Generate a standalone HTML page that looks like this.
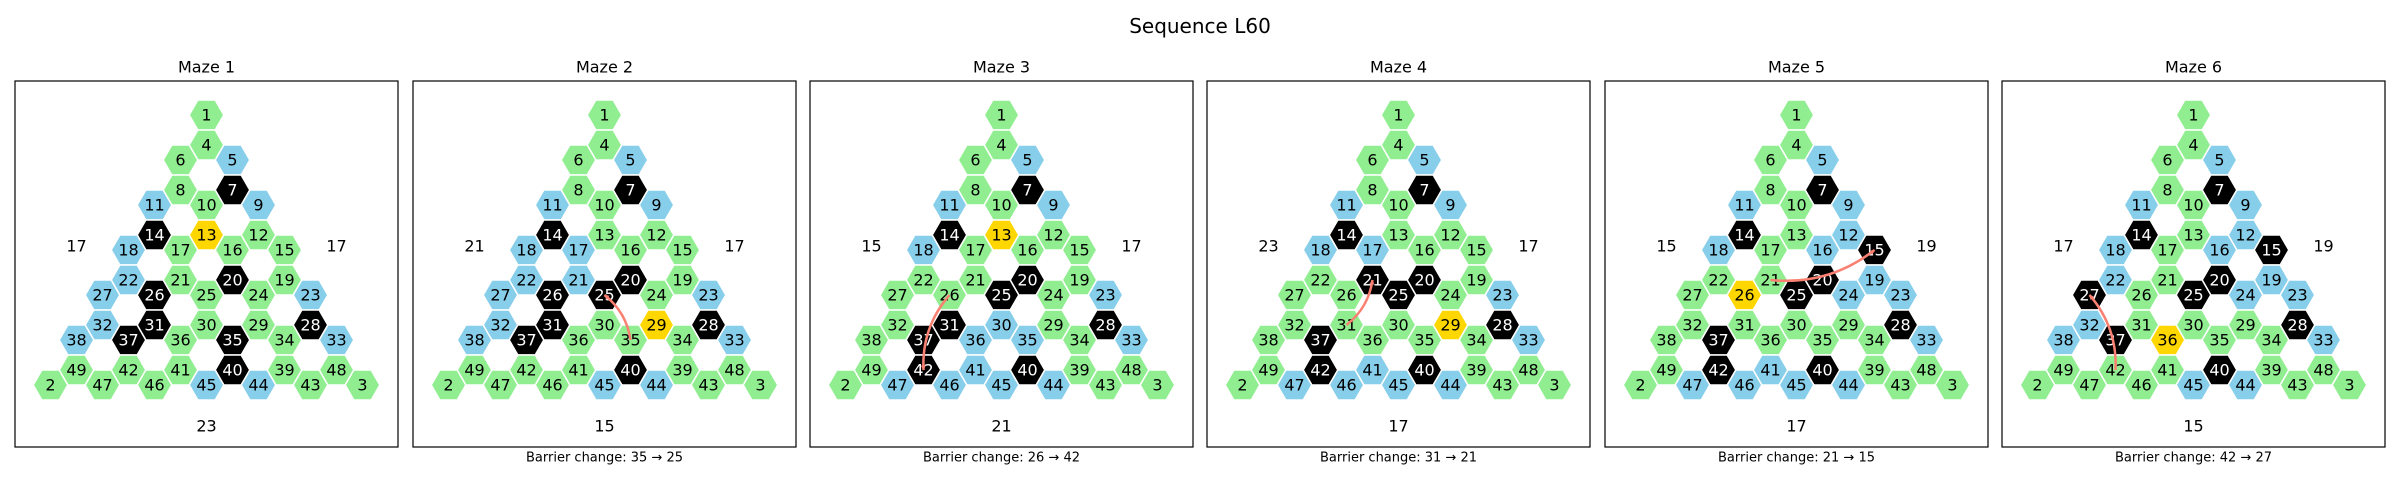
<!DOCTYPE html>
<html><head><meta charset="utf-8"><style>
body{margin:0;background:#fff;}
svg{display:block;font-family:"DejaVu Sans","Liberation Sans",sans-serif;}
</style></head><body>
<svg id="fig" width="2400" height="480" viewBox="0 0 2400 480" xmlns="http://www.w3.org/2000/svg">
<text x="1200" y="26" text-anchor="middle" dominant-baseline="central" font-size="20">Sequence L60</text>
</svg>
<script>
// node layout: id, column (-6..6), half-row index
const nodeIds  = [1,4,6,5,8,7,11,10,9,14,13,12,18,17,16,15,22,21,20,19,27,26,25,24,23,32,31,30,29,28,38,37,36,35,34,33,49,42,41,40,39,48,2,47,46,45,44,43,3];
const nodeCols = [0,0,-1,1,-1,1,-2,0,2,-2,0,2,-3,-1,1,3,-3,-1,1,3,-4,-2,0,2,4,-4,-2,0,2,4,-5,-3,-1,1,3,5,-5,-3,-1,1,3,5,-6,-4,-2,0,2,4,6];
const nodeRows = [0,2,3,3,5,5,6,6,6,8,8,8,9,9,9,9,11,11,11,11,12,12,12,12,12,14,14,14,14,14,15,15,15,15,15,15,17,17,17,17,17,17,18,18,18,18,18,18,18];
// per-maze state
const mazeTitles = ["Maze 1","Maze 2","Maze 3","Maze 4","Maze 5","Maze 6"];
const mazeBlue = [
 [5,11,9,18,22,27,23,32,38,33,45,44],
 [5,11,9,18,17,22,21,27,23,32,38,33,45,44],
 [5,11,9,18,23,30,36,35,33,41,47,46,45,44],
 [5,11,9,18,17,23,33,47,46,41,45,44],
 [5,11,9,18,12,16,24,19,23,33,47,46,41,45,44],
 [5,11,9,18,12,16,22,19,24,23,32,38,33,45,44]
];
const mazeBlack = [
 [7,14,20,26,31,37,35,28,40],
 [7,14,20,26,25,31,37,28,40],
 [7,14,20,25,31,37,28,42,40],
 [7,14,21,20,25,37,28,42,40],
 [7,14,15,20,25,28,37,42,40],
 [7,14,15,20,25,27,37,28,40]
];
const mazeGoal = [13,29,13,29,26,36];
const sideLeft = [17,21,15,23,15,17];
const sideRight = [17,17,17,17,19,19];
const sideBottom = [23,15,21,17,17,15];
const barrierFrom = [null,35,26,31,21,42];
const barrierTo   = [null,25,42,21,15,27];

const NS="http://www.w3.org/2000/svg";
const svg=document.getElementById('fig');
const panelLeft=[15,413,810,1207,1605,2002];
const PW=383, PTOP=81, PBOT=447;
const XU=26, YU=15, R=17.3, Y0=115;
function mk(tag,attrs,parent){const e=document.createElementNS(NS,tag);for(const k in attrs)e.setAttribute(k,attrs[k]);(parent||svg).appendChild(e);return e;}
function nodePos(cx,id){const i=nodeIds.indexOf(id);return [cx+nodeCols[i]*XU, Y0+nodeRows[i]*YU];}

svg.insertAdjacentHTML('beforeend','<defs><marker id="ah" viewBox="0 0 10 10" refX="9" refY="5" markerWidth="5" markerHeight="5" orient="auto-start-reverse" markerUnits="userSpaceOnUse"><path d="M0,0 L10,5 L0,10 z" fill="#fa8072"/></marker></defs>');

for(let m=0;m<6;m++){
  const L=panelLeft[m], cx=L+PW/2;
  const g=mk('g',{});
  
  
  const box=mk('rect',{x:L,y:PTOP,width:PW,height:PBOT-PTOP,fill:'none',stroke:'#000','stroke-width':1.2},g);
  
  
  const t=mk('text',{x:cx,y:67,'text-anchor':'middle','dominant-baseline':'central','font-size':16},g);
  t.textContent=mazeTitles[m];
  
  
  for(let i=0;i<nodeIds.length;i++){
    const id=nodeIds[i];
    const [x,y]=nodePos(cx,id);
    let fill='#90ee90', tc='#000';
    if(mazeBlue[m].includes(id)) fill='#87ceeb';
    if(mazeBlack[m].includes(id)){fill='#000';tc='#fff';}
    if(mazeGoal[m]===id) fill='#ffd700';
    let pts=[];
    for(let k=0;k<6;k++){const a=Math.PI/3*k;pts.push((x+R*Math.cos(a)).toFixed(2)+','+(y+R*Math.sin(a)).toFixed(2));}
    const hx=mk('polygon',{points:pts.join(' '),fill:fill,stroke:'#fff','stroke-width':1.5},g);
    
    
    const tx=mk('text',{x:x,y:y,'text-anchor':'middle','dominant-baseline':'central','font-size':16,fill:tc},g);
    tx.textContent=id;
    
    
  }
  const sl=mk('text',{x:cx-130,y:246,'text-anchor':'middle','dominant-baseline':'central','font-size':16},g);
  sl.textContent=sideLeft[m];
  
  
  const sr=mk('text',{x:cx+130,y:246,'text-anchor':'middle','dominant-baseline':'central','font-size':16},g);
  sr.textContent=sideRight[m];
  
  
  const sb=mk('text',{x:cx,y:426,'text-anchor':'middle','dominant-baseline':'central','font-size':16},g);
  sb.textContent=sideBottom[m];
  
  
  if(barrierFrom[m]!==null){
    const [x1,y1]=nodePos(cx,barrierFrom[m]);
    const [x2,y2]=nodePos(cx,barrierTo[m]);
    const f=0.2, dx=x2-x1, dy=y2-y1;
    const qx=(x1+x2)/2 - f*dy, qy=(y1+y2)/2 + f*dx;
    const ar=mk('path',{d:`M${x1},${y1} Q${qx},${qy} ${x2},${y2}`,fill:'none',stroke:'#fa8072','stroke-width':2.5,'marker-end':'url(#ah)'},g);
    
    
    const bt=mk('text',{x:cx,y:458,'text-anchor':'middle','dominant-baseline':'central','font-size':13},g);
    bt.textContent='Barrier change: '+barrierFrom[m]+' \u2192 '+barrierTo[m];
    
    
  }
}
</script>
</body></html>
